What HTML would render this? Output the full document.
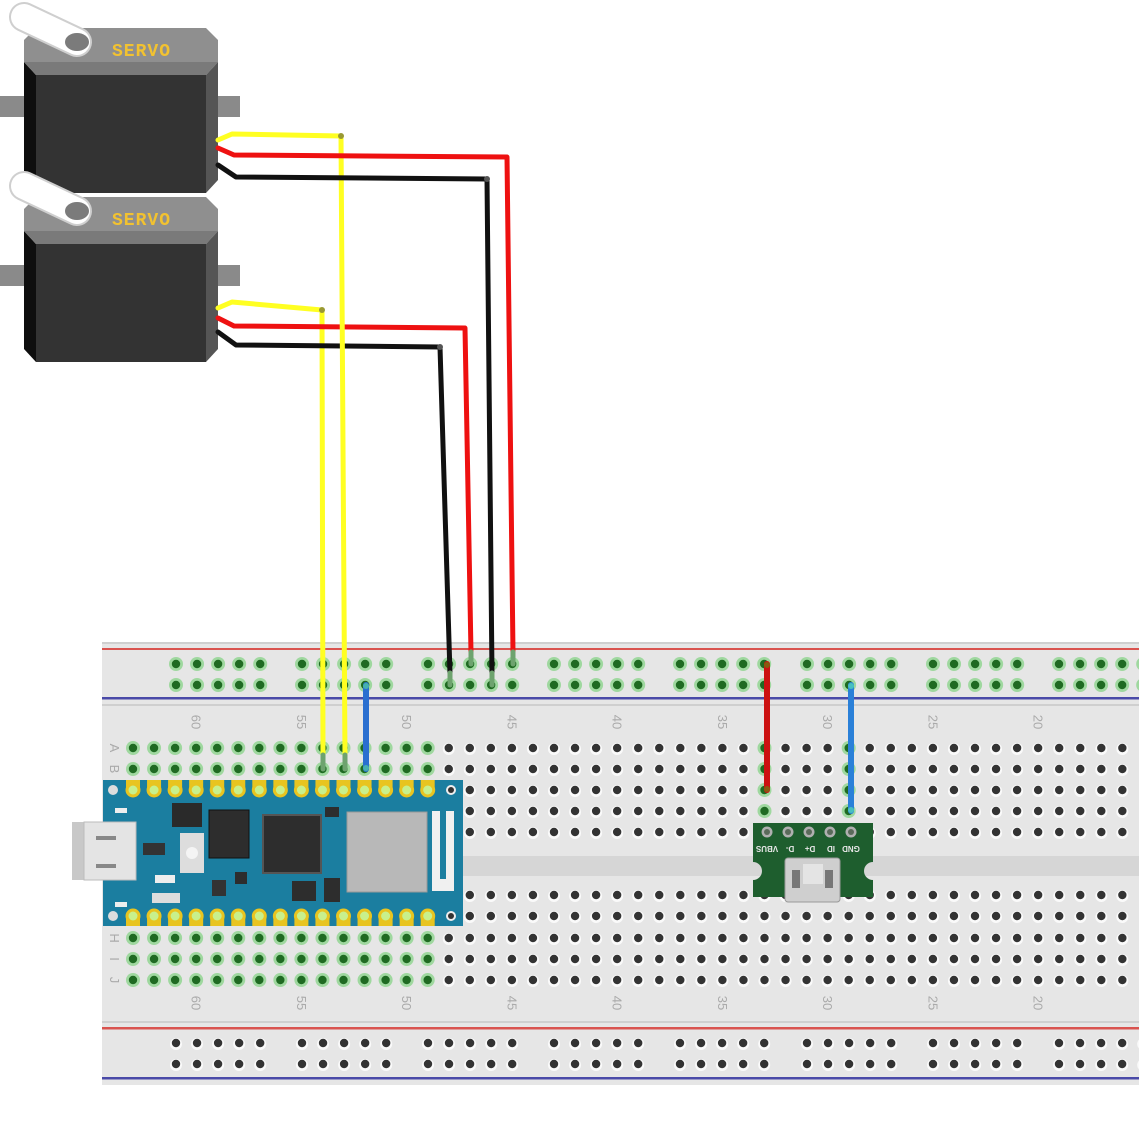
<!DOCTYPE html>
<html><head><meta charset="utf-8"><style>
html,body{margin:0;padding:0;background:#fff;width:1139px;height:1139px;overflow:hidden}
svg{display:block}
</style></head><body>
<svg id="s" width="1139" height="1139" viewBox="0 0 1139 1139" xmlns="http://www.w3.org/2000/svg" font-family="Liberation Sans, sans-serif">
<rect width="1139" height="1139" fill="#fff"/>
<rect x="102" y="642" width="1040" height="443" fill="#e6e6e6"/>
<rect x="102" y="642" width="1040" height="2" fill="#cfcfcf"/>
<rect x="102" y="648" width="1040" height="2" fill="#d9534f"/>
<rect x="102" y="697" width="1040" height="2.5" fill="#4a4aa8"/>
<rect x="102" y="704" width="1040" height="2" fill="#cfcfcf"/>
<rect x="102" y="856" width="1040" height="20" fill="#d6d6d6"/>
<rect x="102" y="1021" width="1040" height="2" fill="#cfcfcf"/>
<rect x="102" y="1027" width="1040" height="2.5" fill="#d9534f"/>
<rect x="102" y="1077" width="1040" height="2.5" fill="#4a4aa8"/>
<g id="holes"></g>
<g id="labels" fill="#aaa" font-size="13"></g>
</svg>
<script>
var s=document.getElementById('s');var NS='http://www.w3.org/2000/svg';
function el(t,a,p){var e=document.createElementNS(NS,t);for(var k in a)e.setAttribute(k,a[k]);(p||s).appendChild(e);return e;}
var H=document.getElementById('holes');
function hole(x,y,g){if(g){el('circle',{cx:x,cy:y,r:7,fill:'#9fd89f'},H);el('circle',{cx:x,cy:y,r:4.2,fill:'#1f6a22'},H);}
else{el('circle',{cx:x,cy:y+1,r:6,fill:'#fafafa'},H);el('circle',{cx:x,cy:y,r:4.2,fill:'#333'},H);}}
var gs=[176,302,428,554,680,807,933,1059];
gs.forEach(function(g){for(var i=0;i<5;i++){var x=g+i*21.05;hole(x,664,true);hole(x,685,true);hole(x,1043,false);hole(x,1064,false);}});
var rows=[748,769,790,811,832,895,916,938,959,980];
for(var c=0;c<48;c++){var x=133+c*21.05;rows.forEach(function(y,ri){var g=false;
 if(c<=14&&(ri<2||ri>=7))g=true;
 if(Math.abs(x-767)<3&&ri<5)g=true;
 if(Math.abs(x-851)<3&&ri<5)g=true;
 hole(x,y,g);});}
var L=document.getElementById('labels');
[60,55,50,45,40,35,30,25,20].forEach(function(n){var x=407+(50-n)*21.05;
 [722,1003].forEach(function(y){var t=el('text',{x:0,y:0,transform:'translate('+(x-5)+','+y+') rotate(90)','text-anchor':'middle'},L);t.textContent=n;});});
[['A',748],['B',769],['H',938],['I',959],['J',980]].forEach(function(a){var t=el('text',{transform:'translate(110,'+a[1]+') rotate(90)','text-anchor':'middle'},L);t.textContent=a[0];});

function servo(o){
 var g=el('g',{transform:'translate(0,'+o+')'});
 el('rect',{x:0,y:96,width:240,height:17,fill:'#8a8a8a'},g);
 el('rect',{x:0,y:113,width:240,height:4,fill:'#2a2a2a'},g);
 el('polygon',{points:'24,62 36,75 36,193 24,180',fill:'#0e0e0e'},g);
 el('rect',{x:36,y:75,width:170,height:118,fill:'#333'},g);
 el('polygon',{points:'206,75 218,62 218,180 206,193',fill:'#555'},g);
 el('polygon',{points:'36,28 206,28 218,40 218,62 206,75 36,75 24,62 24,40',fill:'#8f8f8f'},g);
 el('polygon',{points:'24,62 36,75 206,75 218,62',fill:'#7a7a7a'},g);
 el('rect',{x:0,y:96,width:24,height:21,fill:'#8a8a8a'},g);
 el('rect',{x:218,y:96,width:22,height:21,fill:'#8a8a8a'},g);
 el('line',{x1:24,y1:17,x2:77,y2:42,stroke:'#cfcfcf','stroke-width':30,'stroke-linecap':'round'},g);
 el('line',{x1:24,y1:17,x2:77,y2:42,stroke:'#fff','stroke-width':26,'stroke-linecap':'round'},g);
 el('ellipse',{cx:77,cy:42,rx:12,ry:9,fill:'#7b7b7b'},g);
 var t=el('text',{x:112,y:56,fill:'#f2c230','font-size':18,'font-weight':'bold','font-family':'Liberation Mono, monospace','letter-spacing':'1'},g);t.textContent='SERVO';
}
servo(0);servo(169);
function wire(pts,col,w){el('polyline',{points:pts,fill:'none',stroke:col,'stroke-width':w||5,'stroke-linejoin':'round','stroke-linecap':'round'});}
function tip(x,y1,y2){el('line',{x1:x,y1:y1,x2:x,y2:y2,stroke:'#6ea36e','stroke-width':5,'stroke-linecap':'round'});}
wire('218,308 232,302 322,310 323,757','#ffff22');
wire('218,318 234,326 465,328 471,653','#ee1111');
wire('218,332 236,345 440,347 450,674','#111');
wire('218,140 232,134 341,136 345,757','#ffff22');
wire('218,148 234,155 507,157 513,653','#ee1111');
wire('218,165 236,177 487,179 492,674','#111');
tip(323,755,769);tip(345,755,769);tip(471,652,664);tip(513,652,664);tip(450,673,685);tip(492,673,685);
el('circle',{cx:341,cy:136,r:3,fill:'#999933'});el('circle',{cx:322,cy:310,r:3,fill:'#999933'});
el('circle',{cx:487,cy:179,r:3,fill:'#555'});el('circle',{cx:440,cy:347,r:3,fill:'#555'});
wire('366,685 366,769','#2a6fd0',6);el('circle',{cx:366,cy:686,r:3,fill:'#46b0b0'});el('circle',{cx:366,cy:768,r:3,fill:'#46b0b0'});
wire('767,664 767,790','#cc1111',6);el('circle',{cx:767,cy:665,r:3,fill:'#8a5a10'});el('circle',{cx:767,cy:789,r:3,fill:'#8a5a10'});
wire('851,685 851,811','#2a80d8',6);el('circle',{cx:851,cy:686,r:3,fill:'#46c0c0'});el('circle',{cx:851,cy:810,r:3,fill:'#46c0c0'});

var A=el('g',{});
el('rect',{x:103,y:780,width:360,height:146,fill:'#1b7ea0'},A);
el('rect',{x:72,y:822,width:12,height:58,fill:'#c8c8c8'},A);
el('rect',{x:84,y:822,width:52,height:58,fill:'#e4e4e4',stroke:'#bbb'},A);
el('rect',{x:96,y:836,width:20,height:4,fill:'#888'},A);el('rect',{x:96,y:864,width:20,height:4,fill:'#888'},A);
for(var i=0;i<15;i++){var x=133+i*21.05;
 [790,916].forEach(function(y){el('rect',{x:x-7,y:(y==790?780:y-2),width:14,height:12,fill:'#e8c420'},A);el('circle',{cx:x,cy:y,r:7.5,fill:'#e8c420'},A);el('circle',{cx:x,cy:y,r:4.5,fill:'#c8f08c'},A);});}
el('circle',{cx:113,cy:790,r:5,fill:'#ddd'},A);el('circle',{cx:113,cy:916,r:5,fill:'#ddd'},A);
el('circle',{cx:451,cy:790,r:5,fill:'#eee'},A);el('circle',{cx:451,cy:790,r:3,fill:'#333'},A);
el('circle',{cx:451,cy:916,r:5,fill:'#eee'},A);el('circle',{cx:451,cy:916,r:3,fill:'#333'},A);
el('rect',{x:172,y:803,width:30,height:24,fill:'#2a2a2a'},A);
el('rect',{x:209,y:810,width:40,height:48,fill:'#2d2d2d',stroke:'#111'},A);
el('rect',{x:180,y:833,width:24,height:40,fill:'#ddd'},A);el('circle',{cx:192,cy:853,r:6,fill:'#f4f4f4'},A);
el('rect',{x:143,y:843,width:22,height:12,fill:'#333'},A);
el('rect',{x:263,y:815,width:58,height:58,fill:'#2d2d2d',stroke:'#555','stroke-width':2},A);
el('rect',{x:347,y:812,width:80,height:80,fill:'#b8b8b8',stroke:'#999'},A);
el('rect',{x:432,y:811,width:22,height:80,fill:'#f0f0f0'},A);el('rect',{x:440,y:811,width:6,height:68,fill:'#1b7ea0'},A);
el('rect',{x:292,y:881,width:24,height:20,fill:'#2d2d2d'},A);el('rect',{x:324,y:878,width:16,height:24,fill:'#2d2d2d'},A);
el('rect',{x:235,y:872,width:12,height:12,fill:'#2d2d2d'},A);el('rect',{x:152,y:893,width:28,height:10,fill:'#ddd'},A);
el('rect',{x:155,y:875,width:20,height:8,fill:'#eee'},A);el('rect',{x:325,y:807,width:14,height:10,fill:'#2d2d2d'},A);
el('rect',{x:212,y:880,width:14,height:16,fill:'#333'},A);el('rect',{x:115,y:902,width:12,height:5,fill:'#eee'},A);el('rect',{x:115,y:808,width:12,height:5,fill:'#eee'},A);

var U=el('g',{});
el('path',{d:'M753,823 H873 V862 A9,9 0 0 0 873,880 V897 H753 V880 A9,9 0 0 0 753,862 Z',fill:'#1e5e2e'},U);
[767,788,809,830,851].forEach(function(x,i){el('circle',{cx:x,cy:832,r:5.5,fill:'#b0b0b0'},U);el('circle',{cx:x,cy:832,r:3,fill:'#5a6a5a'},U);});
var lab=['VBUS','D-','D+','ID','GND'];
[767,790,810,831,851].forEach(function(x,i){var t=el('text',{transform:'translate('+x+',846) rotate(180)','text-anchor':'middle','font-size':8,'font-weight':'bold',fill:'#e8e8e8'},U);t.textContent=lab[i];});
el('rect',{x:785,y:858,width:55,height:44,rx:3,fill:'#cfcfcf',stroke:'#999'},U);
el('rect',{x:792,y:870,width:8,height:18,fill:'#777'},U);el('rect',{x:825,y:870,width:8,height:18,fill:'#777'},U);
el('rect',{x:803,y:864,width:20,height:20,fill:'#e4e4e4'},U);
</script>
</body></html>
